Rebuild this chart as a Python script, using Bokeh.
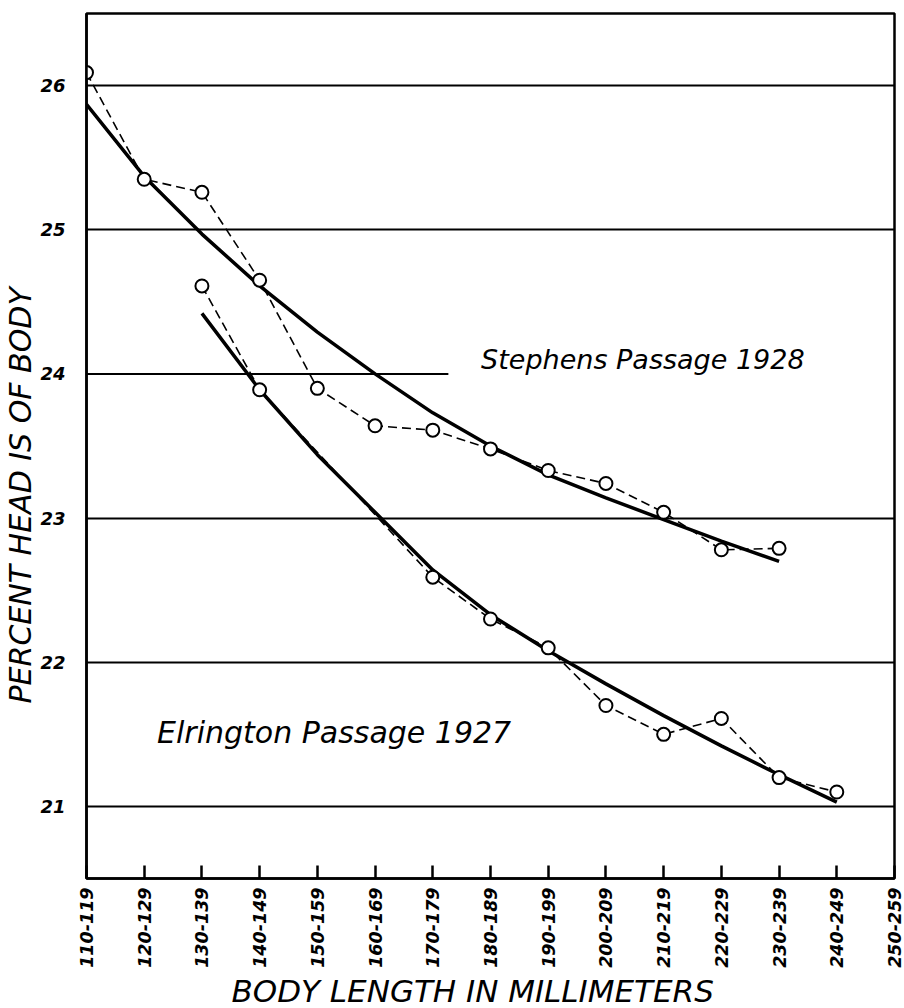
import math
from bokeh.plotting import figure
from bokeh.models import Range1d, FixedTicker, Label, Title
from bokeh.embed import file_html
from bokeh.resources import INLINE

# ---------------- data ----------------
categories = ["110-119", "120-129", "130-139", "140-149", "150-159", "160-169",
              "170-179", "180-189", "190-199", "200-209", "210-219", "220-229",
              "230-239", "240-249", "250-259"]

y_ticks = [21, 22, 23, 24, 25, 26]

# Stephens Passage 1928
stephens_cats = ["110-119", "120-129", "130-139", "140-149", "150-159", "160-169",
                 "170-179", "180-189", "190-199", "200-209", "210-219", "220-229",
                 "230-239"]
stephens_obs = [26.09, 25.35, 25.26, 24.65, 23.90, 23.64, 23.61, 23.48, 23.33,
                23.24, 23.04, 22.78, 22.79]
stephens_fit = [25.87, 25.37, 24.97, 24.61, 24.29, 24.00, 23.73, 23.50, 23.30,
                23.14, 22.99, 22.84, 22.70]

# Elrington Passage 1927
elrington_obs_cats = ["130-139", "140-149", "170-179", "180-189", "190-199",
                      "200-209", "210-219", "220-229", "230-239", "240-249"]
elrington_obs = [24.61, 23.89, 22.59, 22.30, 22.10, 21.70, 21.50, 21.61, 21.20, 21.10]
elrington_fit_cats = ["130-139", "140-149", "150-159", "160-169", "170-179",
                      "180-189", "190-199", "200-209", "210-219", "220-229",
                      "230-239", "240-249"]
elrington_fit = [24.42, 23.89, 23.44, 23.04, 22.64, 22.33, 22.08, 21.85, 21.63,
                 21.42, 21.22, 21.03]

grid_full = [21, 22, 23, 25, 26]
grid_partial_level = 24
grid_partial_end = 6.27

x_title = "BODY LENGTH IN MILLIMETERS"
y_title = "PERCENT HEAD IS OF BODY"
stephens_label = "Stephens Passage 1928"
elrington_label = "Elrington Passage 1927"

# ---------------- figure ----------------
pos = {c: i for i, c in enumerate(categories)}
FONT = "DejaVu Sans"

p = figure(width=904, height=1008, output_backend="svg", toolbar_location=None,
           x_range=Range1d(0, len(categories) - 1), y_range=Range1d(20.5, 26.5),
           min_border_left=81, min_border_right=10, min_border_top=13,
           min_border_bottom=128)
p.background_fill_color = "white"
p.border_fill_color = "white"
p.outline_line_color = "black"
p.outline_line_width = 2.5
p.outline_line_alpha = 1.0

# x axis
xa = p.xaxis[0]
xa.ticker = FixedTicker(ticks=list(range(len(categories))))
xa.major_label_overrides = {i: c for i, c in enumerate(categories)}
xa.major_label_orientation = math.pi / 2
xa.major_tick_in = 13
xa.major_tick_out = 0
xa.minor_tick_in = 0
xa.minor_tick_out = 0
xa.major_tick_line_width = 2.5
xa.major_tick_line_color = "black"
xa.axis_line_width = 2.5
xa.axis_line_color = "black"
xa.major_label_standoff = 9
xa.major_label_text_font = FONT
xa.major_label_text_font_style = "bold italic"
xa.major_label_text_font_size = "17.5px"
xa.major_label_text_color = "black"

# y axis
ya = p.yaxis[0]
ya.ticker = FixedTicker(ticks=y_ticks)
ya.major_tick_in = 0
ya.major_tick_out = 0
ya.minor_tick_in = 0
ya.minor_tick_out = 0
ya.axis_line_width = 2.5
ya.axis_line_color = "black"
ya.major_label_standoff = 21
ya.major_label_text_font = FONT
ya.major_label_text_font_style = "bold italic"
ya.major_label_text_font_size = "18px"
ya.major_label_text_color = "black"

# grid
p.xgrid.visible = False
p.ygrid.ticker = FixedTicker(ticks=grid_full)
p.ygrid.grid_line_color = "black"
p.ygrid.grid_line_width = 2
p.ygrid.grid_line_alpha = 1.0
p.segment(x0=[0], y0=[grid_partial_level], x1=[grid_partial_end],
          y1=[grid_partial_level], line_color="black", line_width=2)

# fitted curves
p.line([pos[c] for c in stephens_cats], stephens_fit, line_color="black", line_width=3.5)
p.line([pos[c] for c in elrington_fit_cats], elrington_fit, line_color="black", line_width=3.5)

# observed (dashed + open circles)
for cats, vals in ((stephens_cats, stephens_obs), (elrington_obs_cats, elrington_obs)):
    xs = [pos[c] for c in cats]
    p.line(xs, vals, line_color="black", line_width=1.6, line_dash="9 5")
    p.scatter(xs, vals, marker="circle", size=13, fill_color="white",
              line_color="black", line_width=2)

# text labels in the plot
p.add_layout(Label(x=9.64, y=24.10, text=stephens_label, text_font=FONT,
                   text_font_style="italic", text_font_size="27px",
                   text_align="center", text_baseline="middle", text_color="black"))
p.add_layout(Label(x=4.29, y=21.51, text=elrington_label, text_font=FONT,
                   text_font_style="italic", text_font_size="30px",
                   text_align="center", text_baseline="middle", text_color="black"))

# axis titles
p.add_layout(Title(text=y_title, align="left", offset=175, text_font=FONT,
                   text_font_style="italic", text_font_size="30px",
                   text_color="black", standoff=0), "left")
p.add_layout(Title(text=x_title, align="left", offset=145, text_font=FONT,
                   text_font_style="italic", text_font_size="31px",
                   text_color="black", standoff=0), "below")

open("out.html", "w").write(file_html(p, INLINE))
